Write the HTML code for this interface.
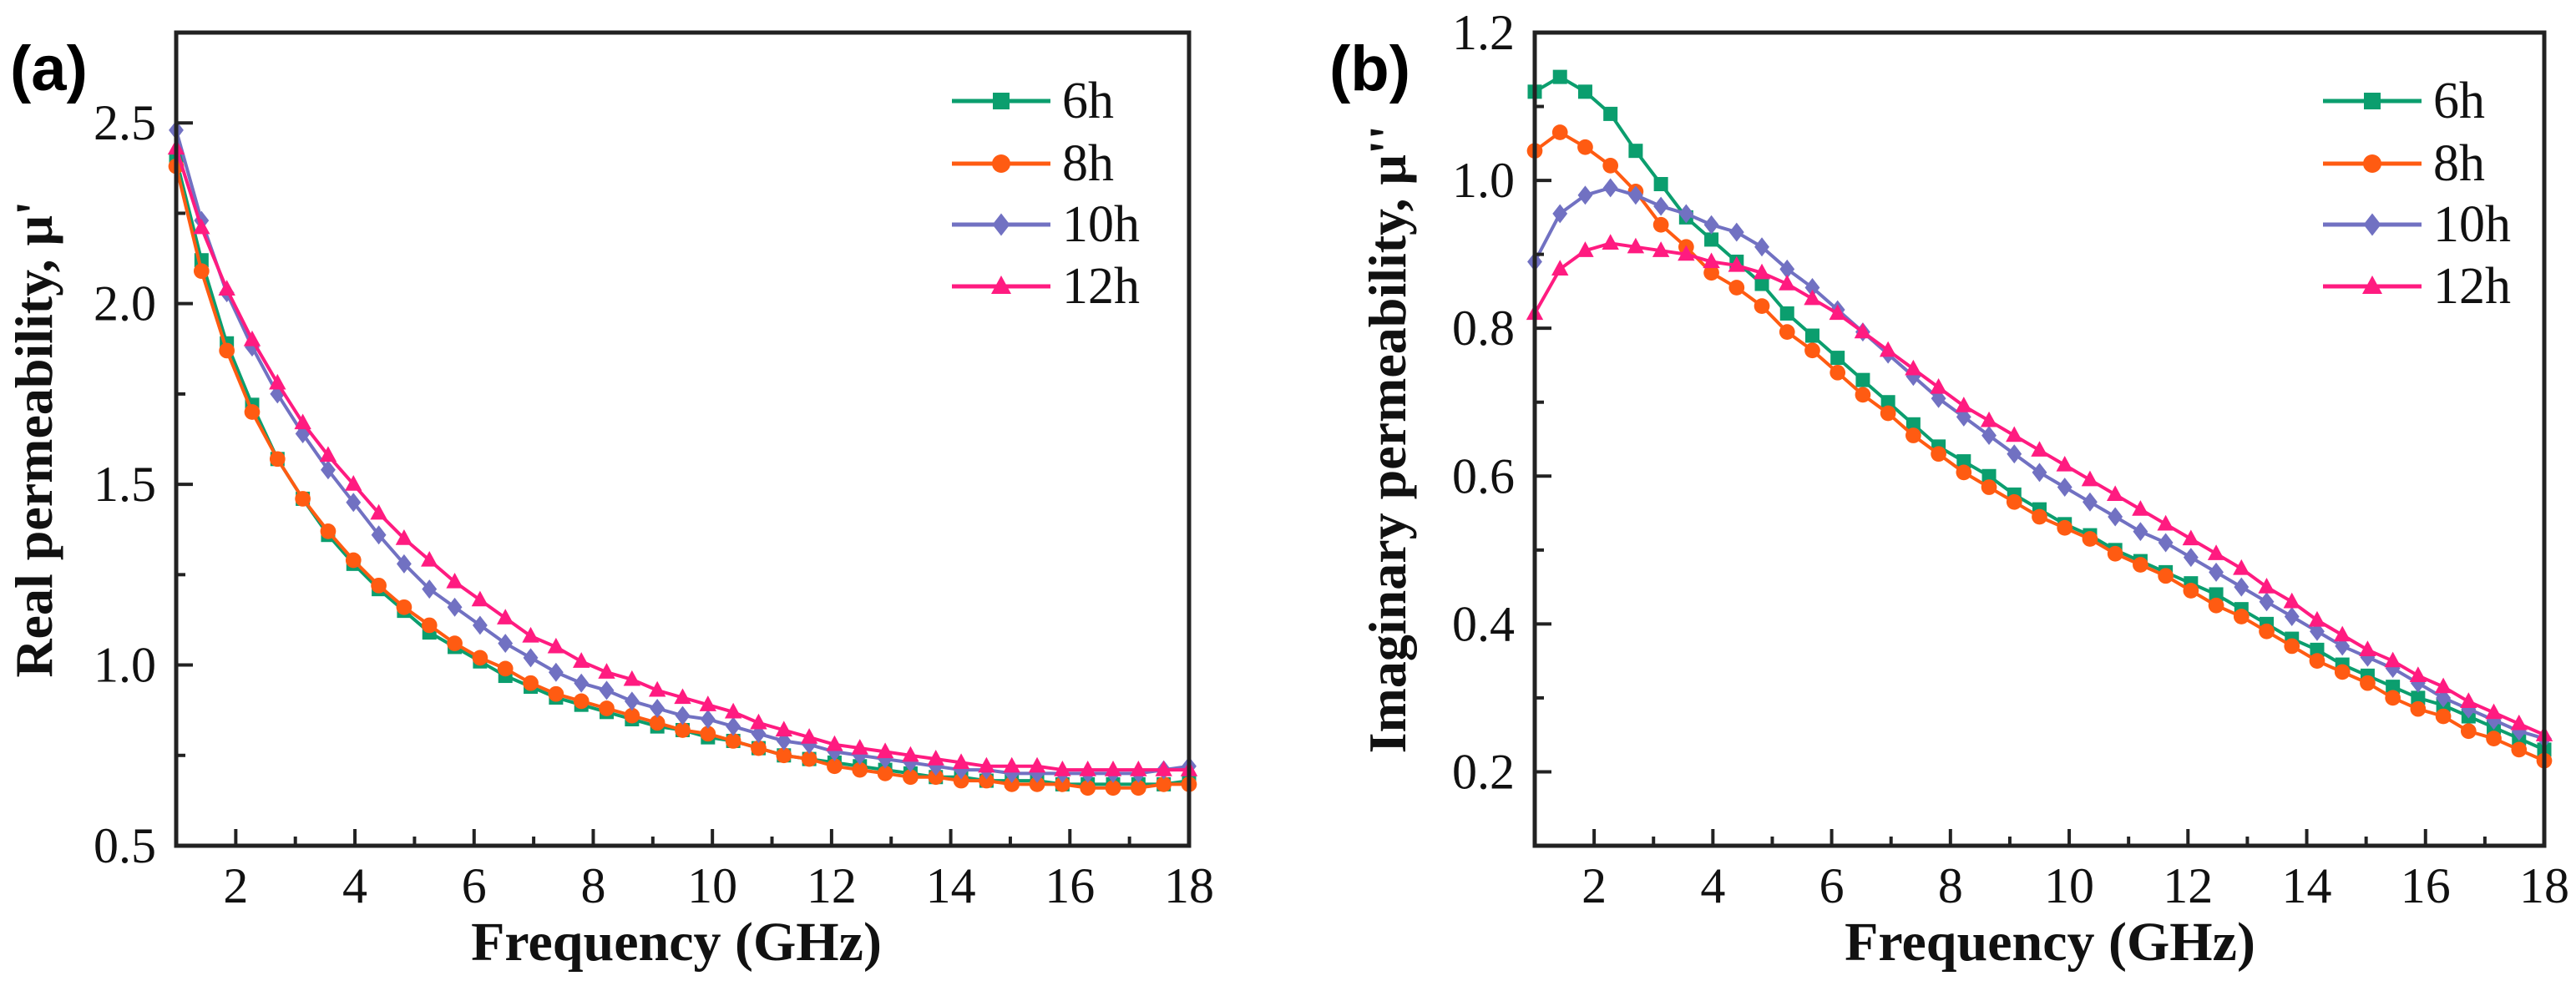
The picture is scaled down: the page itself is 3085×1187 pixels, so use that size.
<!DOCTYPE html>
<html><head><meta charset="utf-8">
<style>
html,body{margin:0;padding:0;background:#fff;}
svg{display:block;}
</style></head>
<body>
<svg id="chart" width="3085" height="1187" viewBox="0 0 3085 1187" xmlns="http://www.w3.org/2000/svg">
  <text x="12" y="108" font-family="Liberation Sans, sans-serif" font-weight="bold" font-size="76">(a)</text>
  <text x="1592" y="108" font-family="Liberation Sans, sans-serif" font-weight="bold" font-size="76">(b)</text>
  <g id="pa"></g>
  <g id="pb"></g>
</svg>
<script>
const freqs = [1,1.425,1.85,2.275,2.7,3.125,3.55,3.975,4.4,4.825,5.25,5.675,6.1,6.525,6.95,7.375,7.8,8.225,8.65,9.075,9.5,9.925,10.35,10.775,11.2,11.625,12.05,12.475,12.9,13.325,13.75,14.175,14.6,15.025,15.45,15.875,16.3,16.725,17.15,17.575,18];
const seriesNames = ["6h","8h","10h","12h"];
const real6h = [2.40,2.12,1.89,1.72,1.57,1.46,1.36,1.28,1.21,1.15,1.09,1.05,1.01,0.97,0.94,0.91,0.89,0.87,0.85,0.83,0.82,0.80,0.79,0.77,0.75,0.74,0.73,0.72,0.71,0.70,0.69,0.69,0.68,0.68,0.68,0.67,0.67,0.67,0.67,0.67,0.68];
const real8h = [2.38,2.09,1.87,1.70,1.57,1.46,1.37,1.29,1.22,1.16,1.11,1.06,1.02,0.99,0.95,0.92,0.90,0.88,0.86,0.84,0.82,0.81,0.79,0.77,0.75,0.74,0.72,0.71,0.70,0.69,0.69,0.68,0.68,0.67,0.67,0.67,0.66,0.66,0.66,0.67,0.67];
const real10h = [2.48,2.23,2.03,1.88,1.75,1.64,1.54,1.45,1.36,1.28,1.21,1.16,1.11,1.06,1.02,0.98,0.95,0.93,0.90,0.88,0.86,0.85,0.83,0.81,0.79,0.78,0.76,0.75,0.74,0.73,0.72,0.71,0.71,0.70,0.70,0.70,0.70,0.70,0.70,0.71,0.72];
const real12h = [2.43,2.21,2.04,1.90,1.78,1.67,1.58,1.50,1.42,1.35,1.29,1.23,1.18,1.13,1.08,1.05,1.01,0.98,0.96,0.93,0.91,0.89,0.87,0.84,0.82,0.80,0.78,0.77,0.76,0.75,0.74,0.73,0.72,0.72,0.72,0.71,0.71,0.71,0.71,0.71,0.71];
const imag6h = [1.12,1.14,1.12,1.09,1.04,0.995,0.95,0.92,0.89,0.86,0.82,0.79,0.76,0.73,0.70,0.67,0.64,0.62,0.60,0.575,0.555,0.535,0.52,0.50,0.485,0.47,0.455,0.44,0.42,0.40,0.38,0.365,0.345,0.33,0.315,0.30,0.29,0.275,0.26,0.245,0.23];
const imag8h = [1.04,1.065,1.045,1.02,0.985,0.94,0.91,0.875,0.855,0.83,0.795,0.77,0.74,0.71,0.685,0.655,0.63,0.605,0.585,0.565,0.545,0.53,0.515,0.495,0.48,0.465,0.445,0.425,0.41,0.39,0.37,0.35,0.335,0.32,0.30,0.285,0.275,0.255,0.245,0.23,0.215];
const imag10h = [0.89,0.955,0.98,0.99,0.98,0.965,0.955,0.94,0.93,0.91,0.88,0.855,0.825,0.795,0.765,0.735,0.705,0.68,0.655,0.63,0.605,0.585,0.565,0.545,0.525,0.51,0.49,0.47,0.45,0.43,0.41,0.39,0.37,0.355,0.34,0.32,0.30,0.285,0.27,0.255,0.245];
const imag12h = [0.82,0.88,0.905,0.915,0.91,0.905,0.9,0.89,0.885,0.875,0.86,0.84,0.82,0.795,0.77,0.745,0.72,0.695,0.675,0.655,0.635,0.615,0.595,0.575,0.555,0.535,0.515,0.495,0.475,0.45,0.43,0.405,0.385,0.365,0.35,0.33,0.315,0.295,0.28,0.265,0.25];
const xTicks = [2,4,6,8,10,12,14,16,18];
const yTicksA = ["0.5","1.0","1.5","2.0","2.5"];
const yTicksB = ["0.2","0.4","0.6","0.8","1.0","1.2"];

const NS = "http://www.w3.org/2000/svg";
const colors = ["#0b9e6e","#ff5b12","#7171c2","#ff1b80"];
const shapes = ["square","circle","diamond","triangle"];

function mk(tag, attrs, parent){
  const e = document.createElementNS(NS, tag);
  for (const k in attrs) e.setAttribute(k, attrs[k]);
  parent.appendChild(e);
  return e;
}
function marker(g, shape, cx, cy, col, s){
  let e;
  if (shape==="square") e = mk("rect",{x:cx-s,y:cy-s,width:2*s,height:2*s,fill:col},g);
  else if (shape==="circle") e = mk("circle",{cx:cx,cy:cy,r:s*1.1,fill:col},g);
  else if (shape==="diamond") e = mk("polygon",{points:`${cx},${cy-s*1.35} ${cx+s*1.05},${cy} ${cx},${cy+s*1.35} ${cx-s*1.05},${cy}`,fill:col},g);
  else e = mk("polygon",{points:`${cx},${cy-s*1.3} ${cx+s*1.2},${cy+s*0.9} ${cx-s*1.2},${cy+s*0.9}`,fill:col},g);
  return e;
}

function panel(gid, box, ymin, ymax, yTicks, minorStep, series, ytitle, ytitleX, xtitleX, legX){
  const g = document.getElementById(gid);
  const X = v => box.l + (v-1)/(18-1)*(box.r-box.l);
  const Y = v => box.b - (v-ymin)/(ymax-ymin)*(box.b-box.t);
  // series
  series.forEach((vals, si) => {
    const sg = mk("g",{},g);
    
    
    const pts = vals.map((v,i)=>X(freqs[i]).toFixed(1)+","+Y(v).toFixed(1)).join(" ");
    const pl = mk("polyline",{points:pts,fill:"none",stroke:colors[si],"stroke-width":4},sg);
    
    
    vals.forEach((v,i)=>{
      const m = marker(sg, shapes[si], X(freqs[i]), Y(v), colors[si], 8.5);
      
      
    });
  });
  // frame
  const fr = mk("rect",{x:box.l,y:box.t,width:box.r-box.l,height:box.b-box.t,fill:"none",stroke:"#222","stroke-width":5},g);
  
  
  // x ticks
  for (let v=1; v<=18; v++){
    const major = v%2===0;
    const t = mk("line",{x1:X(v),x2:X(v),y1:box.b,y2:box.b-(major?20:11),stroke:"#222","stroke-width":4},g);
    
    
  }
  xTicks.forEach(v=>{
    const t = mk("text",{x:X(v),y:box.b+68,"text-anchor":"middle","font-family":"Liberation Serif, serif","font-size":60,fill:"#111"},g);
    t.textContent = String(v);
    
    
  });
  // y ticks
  const ytv = yTicks.map(Number);
  for (let v=ymin; v<=ymax+1e-9; v+=minorStep){
    const isMajor = ytv.some(t=>Math.abs(t-v)<1e-6);
    const t = mk("line",{x1:box.l,x2:box.l+(isMajor?20:11),y1:Y(v),y2:Y(v),stroke:"#222","stroke-width":4},g);
    
    
  }
  yTicks.forEach(s=>{
    const t = mk("text",{x:box.l-24,y:Y(Number(s))+20,"text-anchor":"end","font-family":"Liberation Serif, serif","font-size":60,fill:"#111"},g);
    t.textContent = s;
    
    
  });
  // titles
  const xt = mk("text",{x:xtitleX,y:1150,"text-anchor":"middle","font-family":"Liberation Serif, serif","font-weight":"bold","font-size":66,fill:"#111"},g);
  xt.textContent = "Frequency (GHz)";
  
  
  const cy = (box.t+box.b)/2;
  const yt = mk("text",{x:ytitleX,y:cy,"text-anchor":"middle","font-family":"Liberation Serif, serif","font-weight":"bold","font-size":64,fill:"#111",transform:`rotate(-90 ${ytitleX} ${cy})`},g);
  yt.textContent = ytitle;
  
  
  // legend
  const rows = [121,196,269,343];
  seriesNames.forEach((n,si)=>{
    const lg = mk("g",{},g);
    
    
    mk("line",{x1:legX,x2:legX+118,y1:rows[si],y2:rows[si],stroke:colors[si],"stroke-width":5},lg);
    marker(lg, shapes[si], legX+59, rows[si], colors[si], 10);
    const t = mk("text",{x:legX+132,y:rows[si]+20,"font-family":"Liberation Serif, serif","font-size":62,fill:"#111"},lg);
    t.textContent = n;
  });
}

panel("pa", {l:211,r:1424,t:39,b:1013}, 0.5, 2.75, yTicksA, 0.25,
  [real6h,real8h,real10h,real12h], "Real permeability, \u03BC'", 62, 810, 1140);
panel("pb", {l:1838,r:3047,t:39,b:1013}, 0.1, 1.2, yTicksB, 0.1,
  [imag6h,imag8h,imag10h,imag12h], "Imaginary permeability, \u03BC''", 1683, 2455, 2782);
</script>
</body></html>
